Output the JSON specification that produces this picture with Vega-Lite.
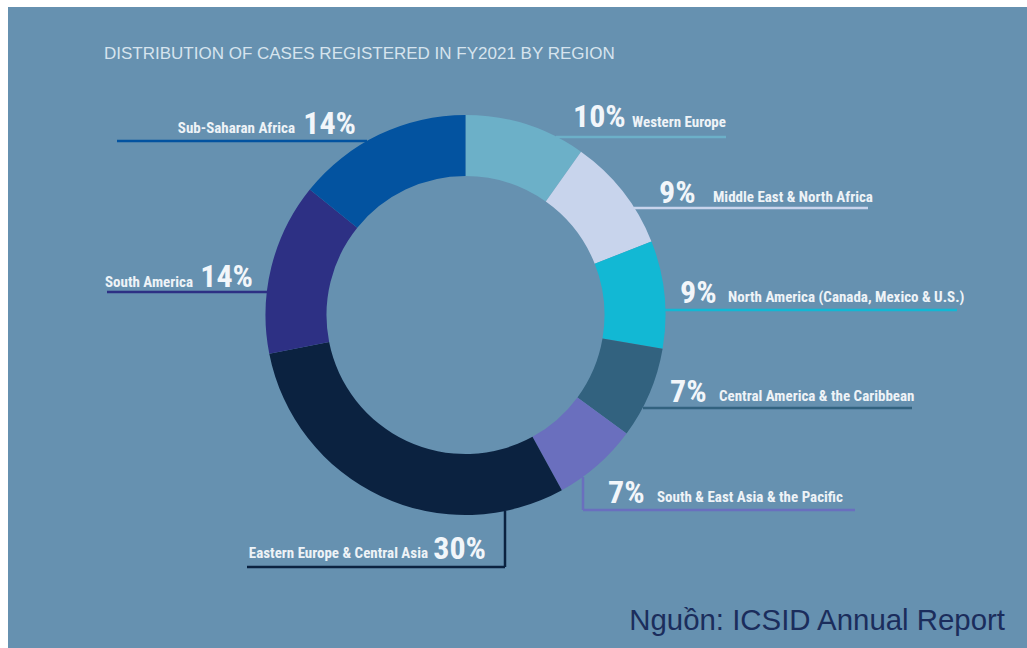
{
  "$schema": "https://vega.github.io/schema/vega-lite/v6.json",
  "width": 1027,
  "height": 648,
  "autosize": {"type": "fit", "contains": "padding"},
  "padding": {"left": 8, "top": 7, "right": 0, "bottom": 0},
  "background": "#ffffff",
  "config": {"view": {"stroke": null, "fill": "#6691b0"}},
  "datasets": {
    "segments": [
      {"idx": 1, "region": "Western Europe", "share": 9.8},
      {"idx": 2, "region": "Middle East & North Africa", "share": 9.2},
      {"idx": 3, "region": "North America (Canada, Mexico & U.S.)", "share": 8.7},
      {"idx": 4, "region": "Central America & the Caribbean", "share": 7.4},
      {"idx": 5, "region": "South & East Asia & the Pacific", "share": 6.9},
      {"idx": 6, "region": "Eastern Europe & Central Asia", "share": 29.9},
      {"idx": 7, "region": "South America", "share": 13.9},
      {"idx": 8, "region": "Sub-Saharan Africa", "share": 14.2}
    ],
    "lines": [
      {"region": "Western Europe", "x1": 556, "x2": 726, "y1": 137, "y2": 137},
      {"region": "Middle East & North Africa", "x1": 634, "x2": 868, "y1": 208, "y2": 208},
      {"region": "North America (Canada, Mexico & U.S.)", "x1": 665, "x2": 957, "y1": 310, "y2": 310},
      {"region": "Central America & the Caribbean", "x1": 643, "x2": 912, "y1": 408, "y2": 408},
      {"region": "South & East Asia & the Pacific", "x1": 583, "x2": 855, "y1": 510, "y2": 510},
      {"region": "South & East Asia & the Pacific", "x1": 583, "x2": 583, "y1": 477, "y2": 510},
      {"region": "Eastern Europe & Central Asia", "x1": 247, "x2": 505, "y1": 567, "y2": 567},
      {"region": "Eastern Europe & Central Asia", "x1": 505, "x2": 505, "y1": 511, "y2": 567},
      {"region": "Sub-Saharan Africa", "x1": 117, "x2": 367, "y1": 141, "y2": 141},
      {"region": "South America", "x1": 107, "x2": 267, "y1": 292, "y2": 292}
    ],
    "labels": [
      {"region": "Western Europe", "pct": "10%", "side": "R", "nx": 573, "ny": 127, "lx": 632, "ly": 127},
      {"region": "Middle East & North Africa", "pct": "9%", "side": "R", "nx": 659, "ny": 203, "lx": 713, "ly": 202},
      {"region": "North America (Canada, Mexico & U.S.)", "pct": "9%", "side": "R", "nx": 680, "ny": 303, "lx": 728, "ly": 302},
      {"region": "Central America & the Caribbean", "pct": "7%", "side": "R", "nx": 670, "ny": 402, "lx": 719, "ly": 401},
      {"region": "South & East Asia & the Pacific", "pct": "7%", "side": "R", "nx": 608, "ny": 503, "lx": 657, "ly": 502},
      {"region": "Eastern Europe & Central Asia", "pct": "30%", "side": "L", "nx": 486, "ny": 559, "lx": 428, "ly": 558},
      {"region": "South America", "pct": "14%", "side": "L", "nx": 253, "ny": 287, "lx": 193, "ly": 287},
      {"region": "Sub-Saharan Africa", "pct": "14%", "side": "L", "nx": 356, "ny": 134, "lx": 295, "ly": 133}
    ],
    "notes": [
      {"kind": "title", "text": "DISTRIBUTION OF CASES REGISTERED IN FY2021 BY REGION", "x": 104, "y": 59},
      {"kind": "source", "text": "Nguồn: ICSID Annual Report", "x": 1005, "y": 630}
    ]
  },
  "layer": [
    {
      "data": {"name": "segments"},
      "mark": {"type": "arc", "outerRadius": 200, "innerRadius": 139, "stroke": null},
      "encoding": {
        "theta": {"field": "share", "type": "quantitative", "stack": true},
        "order": {"field": "idx", "type": "quantitative"},
        "color": {
          "field": "region", "type": "nominal", "legend": null,
          "scale": {
            "domain": ["Western Europe", "Middle East & North Africa", "North America (Canada, Mexico & U.S.)", "Central America & the Caribbean", "South & East Asia & the Pacific", "Eastern Europe & Central Asia", "South America", "Sub-Saharan Africa"],
            "range": ["#6cb0c8", "#c8d4ec", "#12b8d4", "#32627f", "#6a6fbe", "#0b2240", "#2d3084", "#0353a0"]
          }
        },
        "x": {"datum": 465.5, "type": "quantitative", "axis": null, "scale": {"domain": [8, 1027], "nice": false, "zero": false}},
        "y": {"datum": 315, "type": "quantitative", "axis": null, "scale": {"domain": [7, 648], "nice": false, "zero": false, "reverse": true}}
      }
    },
    {
      "data": {"name": "lines"},
      "mark": {"type": "rule", "strokeWidth": 2.5, "strokeCap": "butt"},
      "encoding": {
        "x": {"field": "x1", "type": "quantitative", "axis": null, "scale": {"domain": [8, 1027], "nice": false, "zero": false}},
        "x2": {"field": "x2"},
        "y": {"field": "y1", "type": "quantitative", "axis": null, "scale": {"domain": [7, 648], "nice": false, "zero": false, "reverse": true}},
        "y2": {"field": "y2"},
        "color": {"field": "region", "type": "nominal", "legend": null}
      }
    },
    {
      "data": {"name": "labels"},
      "transform": [{"filter": "datum.side === 'R'"}],
      "mark": {"type": "text", "align": "left", "baseline": "alphabetic", "font": "Roboto Condensed, DejaVu Sans Condensed", "fontWeight": "bold", "fontSize": 32, "fill": "#f2f6fa"},
      "encoding": {
        "x": {"field": "nx", "type": "quantitative", "axis": null, "scale": {"domain": [8, 1027], "nice": false, "zero": false}},
        "y": {"field": "ny", "type": "quantitative", "axis": null, "scale": {"domain": [7, 648], "nice": false, "zero": false, "reverse": true}},
        "text": {"field": "pct"}
      }
    },
    {
      "data": {"name": "labels"},
      "transform": [{"filter": "datum.side === 'R'"}],
      "mark": {"type": "text", "align": "left", "baseline": "alphabetic", "font": "Roboto Condensed, DejaVu Sans Condensed", "fontWeight": "bold", "fontSize": 15, "fill": "#eef3f7"},
      "encoding": {
        "x": {"field": "lx", "type": "quantitative", "axis": null, "scale": {"domain": [8, 1027], "nice": false, "zero": false}},
        "y": {"field": "ly", "type": "quantitative", "axis": null, "scale": {"domain": [7, 648], "nice": false, "zero": false, "reverse": true}},
        "text": {"field": "region"}
      }
    },
    {
      "data": {"name": "labels"},
      "transform": [{"filter": "datum.side === 'L'"}],
      "mark": {"type": "text", "align": "right", "baseline": "alphabetic", "font": "Roboto Condensed, DejaVu Sans Condensed", "fontWeight": "bold", "fontSize": 32, "fill": "#f2f6fa"},
      "encoding": {
        "x": {"field": "nx", "type": "quantitative", "axis": null, "scale": {"domain": [8, 1027], "nice": false, "zero": false}},
        "y": {"field": "ny", "type": "quantitative", "axis": null, "scale": {"domain": [7, 648], "nice": false, "zero": false, "reverse": true}},
        "text": {"field": "pct"}
      }
    },
    {
      "data": {"name": "labels"},
      "transform": [{"filter": "datum.side === 'L'"}],
      "mark": {"type": "text", "align": "right", "baseline": "alphabetic", "font": "Roboto Condensed, DejaVu Sans Condensed", "fontWeight": "bold", "fontSize": 15, "fill": "#eef3f7"},
      "encoding": {
        "x": {"field": "lx", "type": "quantitative", "axis": null, "scale": {"domain": [8, 1027], "nice": false, "zero": false}},
        "y": {"field": "ly", "type": "quantitative", "axis": null, "scale": {"domain": [7, 648], "nice": false, "zero": false, "reverse": true}},
        "text": {"field": "region"}
      }
    },
    {
      "data": {"name": "notes"},
      "transform": [{"filter": "datum.kind === 'title'"}],
      "mark": {"type": "text", "align": "left", "baseline": "alphabetic", "font": "Liberation Sans", "fontSize": 17, "fill": "#d6e4ee"},
      "encoding": {
        "x": {"field": "x", "type": "quantitative", "axis": null, "scale": {"domain": [8, 1027], "nice": false, "zero": false}},
        "y": {"field": "y", "type": "quantitative", "axis": null, "scale": {"domain": [7, 648], "nice": false, "zero": false, "reverse": true}},
        "text": {"field": "text"}
      }
    },
    {
      "data": {"name": "notes"},
      "transform": [{"filter": "datum.kind === 'source'"}],
      "mark": {"type": "text", "align": "right", "baseline": "alphabetic", "font": "Liberation Sans", "fontSize": 29.4, "fill": "#1b2d5c"},
      "encoding": {
        "x": {"field": "x", "type": "quantitative", "axis": null, "scale": {"domain": [8, 1027], "nice": false, "zero": false}},
        "y": {"field": "y", "type": "quantitative", "axis": null, "scale": {"domain": [7, 648], "nice": false, "zero": false, "reverse": true}},
        "text": {"field": "text"}
      }
    }
  ]
}
